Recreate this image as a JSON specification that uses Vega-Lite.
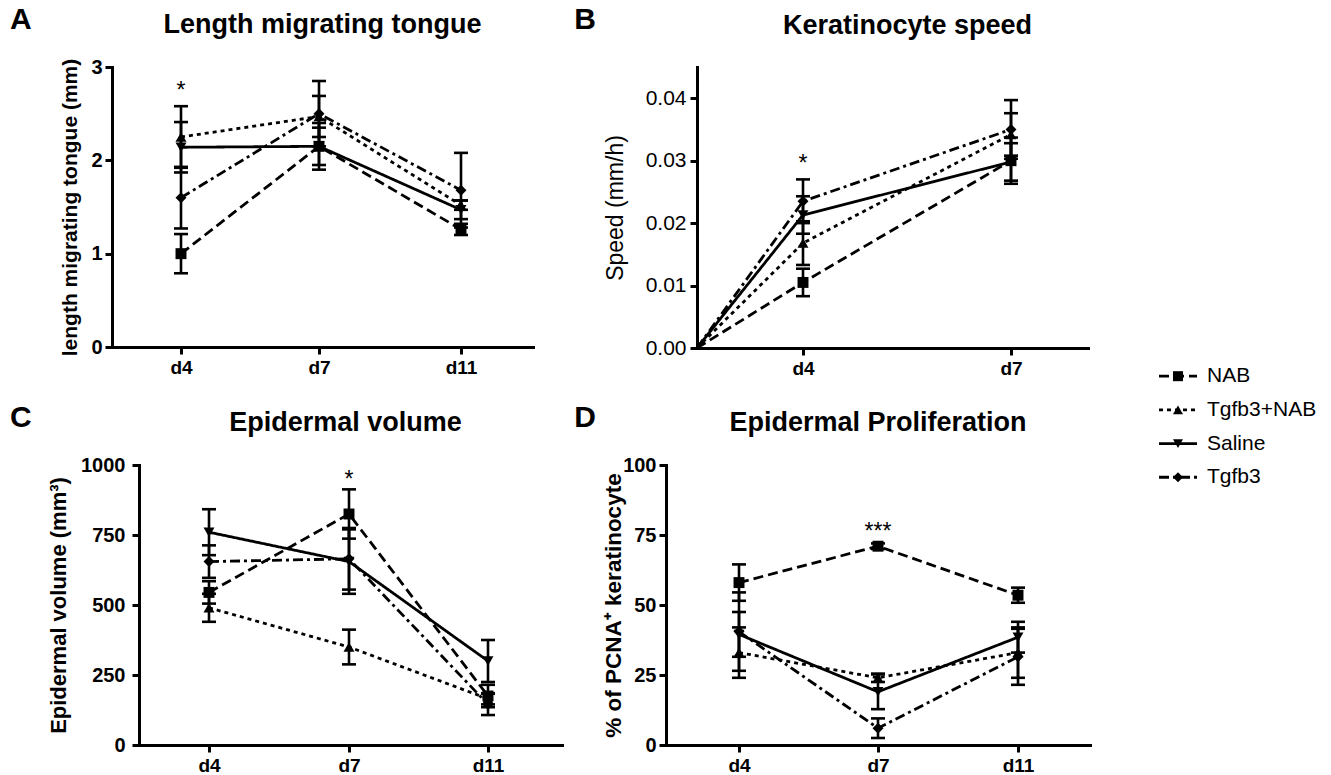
{
  "$schema": "https://vega.github.io/schema/vega-lite/v6.json",
  "padding": {"left": 10, "top": 5, "right": 0, "bottom": 0},
  "background": "white",
  "datasets": {
    "main": [
      {"panel":"A","group":"NAB","day":4,"value":1.0,"err":0.21},
      {"panel":"A","group":"NAB","day":7,"value":2.15,"err":0.25},
      {"panel":"A","group":"NAB","day":11,"value":1.26,"err":0.06},
      {"panel":"A","group":"Tgfb3+NAB","day":4,"value":2.25,"err":0.33},
      {"panel":"A","group":"Tgfb3+NAB","day":7,"value":2.47,"err":0.22},
      {"panel":"A","group":"Tgfb3+NAB","day":11,"value":1.52,"err":0.05},
      {"panel":"A","group":"Saline","day":4,"value":2.14,"err":0.27},
      {"panel":"A","group":"Saline","day":7,"value":2.15,"err":0.2},
      {"panel":"A","group":"Saline","day":11,"value":1.47,"err":0.1},
      {"panel":"A","group":"Tgfb3","day":4,"value":1.6,"err":0.33},
      {"panel":"A","group":"Tgfb3","day":7,"value":2.5,"err":0.35},
      {"panel":"A","group":"Tgfb3","day":11,"value":1.68,"err":0.4},
      {"panel":"B","group":"NAB","day":0,"value":0,"err":0},
      {"panel":"B","group":"NAB","day":4,"value":0.0105,"err":0.0022},
      {"panel":"B","group":"NAB","day":7,"value":0.030,"err":0.0037},
      {"panel":"B","group":"Tgfb3+NAB","day":0,"value":0,"err":0},
      {"panel":"B","group":"Tgfb3+NAB","day":4,"value":0.0168,"err":0.0035},
      {"panel":"B","group":"Tgfb3+NAB","day":7,"value":0.0342,"err":0.0034},
      {"panel":"B","group":"Saline","day":0,"value":0,"err":0},
      {"panel":"B","group":"Saline","day":4,"value":0.0213,"err":0.003},
      {"panel":"B","group":"Saline","day":7,"value":0.0298,"err":0.003},
      {"panel":"B","group":"Tgfb3","day":0,"value":0,"err":0},
      {"panel":"B","group":"Tgfb3","day":4,"value":0.0235,"err":0.0035},
      {"panel":"B","group":"Tgfb3","day":7,"value":0.035,"err":0.0047},
      {"panel":"C","group":"NAB","day":4,"value":545,"err":40},
      {"panel":"C","group":"NAB","day":7,"value":825,"err":88},
      {"panel":"C","group":"NAB","day":11,"value":175,"err":40},
      {"panel":"C","group":"Tgfb3+NAB","day":4,"value":490,"err":50},
      {"panel":"C","group":"Tgfb3+NAB","day":7,"value":350,"err":62},
      {"panel":"C","group":"Tgfb3+NAB","day":11,"value":165,"err":20},
      {"panel":"C","group":"Saline","day":4,"value":760,"err":82},
      {"panel":"C","group":"Saline","day":7,"value":655,"err":115},
      {"panel":"C","group":"Saline","day":11,"value":300,"err":75},
      {"panel":"C","group":"Tgfb3","day":4,"value":655,"err":58},
      {"panel":"C","group":"Tgfb3","day":7,"value":665,"err":110},
      {"panel":"C","group":"Tgfb3","day":11,"value":145,"err":38},
      {"panel":"D","group":"NAB","day":4,"value":58,"err":6.5},
      {"panel":"D","group":"NAB","day":7,"value":71,"err":1},
      {"panel":"D","group":"NAB","day":11,"value":53.5,"err":2.7},
      {"panel":"D","group":"Tgfb3+NAB","day":4,"value":33,"err":9},
      {"panel":"D","group":"Tgfb3+NAB","day":7,"value":24,"err":1.5},
      {"panel":"D","group":"Tgfb3+NAB","day":11,"value":33,"err":9},
      {"panel":"D","group":"Saline","day":4,"value":39.5,"err":8},
      {"panel":"D","group":"Saline","day":7,"value":19,"err":6.2},
      {"panel":"D","group":"Saline","day":11,"value":38.5,"err":5.5},
      {"panel":"D","group":"Tgfb3","day":4,"value":40.5,"err":14},
      {"panel":"D","group":"Tgfb3","day":7,"value":6,"err":3.5},
      {"panel":"D","group":"Tgfb3","day":11,"value":31.5,"err":10}
    ],
    "stars": [
      {"panel":"A","day":4,"value":2.74,"label":"*"},
      {"panel":"B","day":4,"value":0.0294,"label":"*"},
      {"panel":"C","day":7,"value":946,"label":"*"},
      {"panel":"D","day":7,"value":76,"label":"***"}
    ],
    "legend": [
      {"group":"NAB","order":1},
      {"group":"Tgfb3+NAB","order":2},
      {"group":"Saline","order":3},
      {"group":"Tgfb3","order":4}
    ]
  },
  "hconcat": [
    {
      "vconcat": [
        {
          "hconcat": [
            {
              "width": 41, "height": 280,
              "title": {"text":"A","anchor":"start","frame":"group","offset":32,"fontSize":30},
              "data": {"values": []},
              "mark": "point"
            },
            {
              "width": 421, "height": 280,
              "title": {"text":"Length migrating tongue","dx":0,"offset":18},
              "data": {"name":"main"},
              "transform": [{"filter":"datum.panel === 'A'"}],
              "encoding": {
                "x": {"field":"day","type":"quantitative","scale":{"domain":[3,4,7,11,12],"range":[0,69,207,349,421],"nice":false,"zero":false},"axis":{"values":[4,7,11],"labelExpr":"'d' + datum.value","title":null}},
                "y": {"field":"value","type":"quantitative","scale":{"domain":[0,3],"nice":false},"axis":{"values":[0,1,2,3],"title":"length migrating tongue (mm)","titleFontSize":21,"titlePadding":10,"labelPadding":3}}
              },
              "layer": [
                {"mark":{"type":"line","color":"black","strokeWidth":2.8},"encoding":{"strokeDash":{"field":"group","type":"nominal","legend":null,"scale":{"domain":["NAB","Tgfb3+NAB","Saline","Tgfb3"],"range":[[10,5],[4,4],[1,0],[10,4,3,4]]}}}},
                {"transform":[{"filter":"datum.day > 0"}],"mark":{"type":"errorbar","ticks":{"size":14,"opacity":1,"color":"black"},"rule":{"opacity":1,"color":"black"},"thickness":2.6,"color":"black"},"encoding":{"yError":{"field":"err"}}},
                {"transform":[{"filter":"datum.day > 0"}],"mark":{"type":"point","filled":true,"color":"black","opacity":1,"size":120},"encoding":{"shape":{"field":"group","type":"nominal","legend":null,"scale":{"domain":["NAB","Tgfb3+NAB","Saline","Tgfb3"],"range":["square","triangle-up","triangle-down","diamond"]}}}},
                {"data":{"name":"stars"},"transform":[{"filter":"datum.panel === 'A'"}],"mark":{"type":"text","fontSize":23,"baseline":"middle","color":"black"},"encoding":{"text":{"field":"label"}}}
              ]
            },
            {
              "width": 55, "height": 281,
              "title": {"text":"B","anchor":"end","frame":"group","offset":32,"fontSize":30},
              "data": {"values": []},
              "mark": "point"
            },
            {
              "width": 391, "height": 281,
              "title": {"text":"Keratinocyte speed","dx":15,"offset":27},
              "data": {"name":"main"},
              "transform": [{"filter":"datum.panel === 'B'"}],
              "encoding": {
                "x": {"field":"day","type":"quantitative","scale":{"domain":[0,4,7,9],"range":[0,106,314,391],"nice":false,"zero":false},"axis":{"values":[4,7],"labelExpr":"'d' + datum.value","title":null}},
                "y": {"field":"value","type":"quantitative","scale":{"domain":[0,0.045],"nice":false},"axis":{"values":[0,0.01,0.02,0.03,0.04],"format":".2f","title":"Speed (mm/h)","titleFontSize":23,"titleFontWeight":"normal","labelFontWeight":"normal","labelFontSize":21,"titlePadding":18,"labelPadding":4}}
              },
              "layer": [
                {"mark":{"type":"line","color":"black","strokeWidth":2.8},"encoding":{"strokeDash":{"field":"group","type":"nominal","legend":null,"scale":{"domain":["NAB","Tgfb3+NAB","Saline","Tgfb3"],"range":[[10,5],[4,4],[1,0],[10,4,3,4]]}}}},
                {"transform":[{"filter":"datum.day > 0"}],"mark":{"type":"errorbar","ticks":{"size":14,"opacity":1,"color":"black"},"rule":{"opacity":1,"color":"black"},"thickness":2.6,"color":"black"},"encoding":{"yError":{"field":"err"}}},
                {"transform":[{"filter":"datum.day > 0"}],"mark":{"type":"point","filled":true,"color":"black","opacity":1,"size":120},"encoding":{"shape":{"field":"group","type":"nominal","legend":null,"scale":{"domain":["NAB","Tgfb3+NAB","Saline","Tgfb3"],"range":["square","triangle-up","triangle-down","diamond"]}}}},
                {"data":{"name":"stars"},"transform":[{"filter":"datum.panel === 'B'"}],"mark":{"type":"text","fontSize":23,"baseline":"middle","color":"black"},"encoding":{"text":{"field":"label"}}}
              ]
            }
          ],
          "spacing": 8,
          "resolve": {"scale":{"x":"independent","y":"independent"},"axis":{"x":"independent","y":"independent"}}
        },
        {
          "hconcat": [
            {
              "width": 31, "height": 280,
              "title": {"text":"C","anchor":"start","frame":"group","offset":32,"fontSize":30},
              "data": {"values": []},
              "mark": "point"
            },
            {
              "width": 423, "height": 280,
              "title": {"text":"Epidermal volume","dx":-5,"offset":18},
              "data": {"name":"main"},
              "transform": [{"filter":"datum.panel === 'C'"}],
              "encoding": {
                "x": {"field":"day","type":"quantitative","scale":{"domain":[3,4,7,11,12],"range":[0,70,210,349,423],"nice":false,"zero":false},"axis":{"values":[4,7,11],"labelExpr":"'d' + datum.value","title":null}},
                "y": {"field":"value","type":"quantitative","scale":{"domain":[0,1000],"nice":false},"axis":{"values":[0,250,500,750,1000],"format":"d","title":"Epidermal volume (mm³)","titleFontSize":22,"titlePadding":10,"labelPadding":7}}
              },
              "layer": [
                {"mark":{"type":"line","color":"black","strokeWidth":2.8},"encoding":{"strokeDash":{"field":"group","type":"nominal","legend":null,"scale":{"domain":["NAB","Tgfb3+NAB","Saline","Tgfb3"],"range":[[10,5],[4,4],[1,0],[10,4,3,4]]}}}},
                {"transform":[{"filter":"datum.day > 0"}],"mark":{"type":"errorbar","ticks":{"size":14,"opacity":1,"color":"black"},"rule":{"opacity":1,"color":"black"},"thickness":2.6,"color":"black"},"encoding":{"yError":{"field":"err"}}},
                {"transform":[{"filter":"datum.day > 0"}],"mark":{"type":"point","filled":true,"color":"black","opacity":1,"size":120},"encoding":{"shape":{"field":"group","type":"nominal","legend":null,"scale":{"domain":["NAB","Tgfb3+NAB","Saline","Tgfb3"],"range":["square","triangle-up","triangle-down","diamond"]}}}},
                {"data":{"name":"stars"},"transform":[{"filter":"datum.panel === 'C'"}],"mark":{"type":"text","fontSize":23,"baseline":"middle","color":"black"},"encoding":{"text":{"field":"label"}}}
              ]
            },
            {
              "width": 28, "height": 280,
              "title": {"text":"D","anchor":"end","frame":"group","offset":32,"fontSize":30},
              "data": {"values": []},
              "mark": "point"
            },
            {
              "width": 424, "height": 280,
              "title": {"text":"Epidermal Proliferation","dx":0,"offset":18},
              "data": {"name":"main"},
              "transform": [{"filter":"datum.panel === 'D'"}],
              "encoding": {
                "x": {"field":"day","type":"quantitative","scale":{"domain":[3,4,7,11,12],"range":[0,73,212,352,424],"nice":false,"zero":false},"axis":{"values":[4,7,11],"labelExpr":"'d' + datum.value","title":null}},
                "y": {"field":"value","type":"quantitative","scale":{"domain":[0,100],"nice":false},"axis":{"values":[0,25,50,75,100],"title":"% of PCNA⁺ keratinocyte","titleFontSize":22.5,"titlePadding":-3,"labelPadding":3}}
              },
              "layer": [
                {"mark":{"type":"line","color":"black","strokeWidth":2.8},"encoding":{"strokeDash":{"field":"group","type":"nominal","legend":null,"scale":{"domain":["NAB","Tgfb3+NAB","Saline","Tgfb3"],"range":[[10,5],[4,4],[1,0],[10,4,3,4]]}}}},
                {"transform":[{"filter":"datum.day > 0"}],"mark":{"type":"errorbar","ticks":{"size":14,"opacity":1,"color":"black"},"rule":{"opacity":1,"color":"black"},"thickness":2.6,"color":"black"},"encoding":{"yError":{"field":"err"}}},
                {"transform":[{"filter":"datum.day > 0"}],"mark":{"type":"point","filled":true,"color":"black","opacity":1,"size":120},"encoding":{"shape":{"field":"group","type":"nominal","legend":null,"scale":{"domain":["NAB","Tgfb3+NAB","Saline","Tgfb3"],"range":["square","triangle-up","triangle-down","diamond"]}}}},
                {"data":{"name":"stars"},"transform":[{"filter":"datum.panel === 'D'"}],"mark":{"type":"text","fontSize":23,"baseline":"middle","color":"black"},"encoding":{"text":{"field":"label"}}}
              ]
            }
          ],
          "spacing": 6,
          "resolve": {"scale":{"x":"independent","y":"independent"},"axis":{"x":"independent","y":"independent"}}
        }
      ],
      "spacing": 25,
      "resolve": {"scale":{"x":"independent","y":"independent"},"axis":{"x":"independent","y":"independent"}}
    },
    {
      "width": 38, "height": 420,
      "data": {"name":"legend"},
      "encoding": {
        "y": {"field":"order","type":"quantitative","scale":{"domain":[-8.18,4.29],"reverse":true,"nice":false,"zero":false},"axis":null}
      },
      "layer": [
        {"mark":{"type":"rule","color":"black","strokeWidth":2.8},"encoding":{"x":{"datum":0,"type":"quantitative","scale":{"domain":[0,1],"nice":false},"axis":null},"x2":{"datum":1},"strokeDash":{"field":"group","type":"nominal","legend":null,"scale":{"domain":["NAB","Tgfb3+NAB","Saline","Tgfb3"],"range":[[10,5],[4,4],[1,0],[10,4,3,4]]}}}},
        {"mark":{"type":"point","filled":true,"color":"black","opacity":1,"size":100},"encoding":{"x":{"datum":0.5,"type":"quantitative"},"shape":{"field":"group","type":"nominal","legend":null,"scale":{"domain":["NAB","Tgfb3+NAB","Saline","Tgfb3"],"range":["square","triangle-up","triangle-down","diamond"]}}}},
        {"mark":{"type":"text","align":"left","baseline":"middle","dx":10,"fontSize":21,"color":"black"},"encoding":{"x":{"datum":1,"type":"quantitative"},"text":{"field":"group"}}}
      ]
    }
  ],
  "spacing": 67,
  "resolve": {"scale":{"x":"independent","y":"independent"},"axis":{"x":"independent","y":"independent"}},
  "config": {
    "font": "Liberation Sans",
    "view": {"stroke": null},
    "tick": {"opacity": 1},
    "axis": {
      "domainColor": "black", "domainWidth": 3, "domainCap": "square",
      "tickColor": "black", "tickWidth": 3, "tickSize": 7,
      "labelFont": "Liberation Sans", "labelFontSize": 20, "labelFontWeight": "bold", "labelColor": "black",
      "titleFont": "Liberation Sans", "titleFontWeight": "bold", "titleColor": "black",
      "grid": false
    },
    "axisX": {"labelFontSize": 19, "labelPadding": 4},
    "title": {"font": "Liberation Sans", "fontSize": 27, "fontWeight": "bold", "color": "black", "baseline": "alphabetic"}
  }
}
